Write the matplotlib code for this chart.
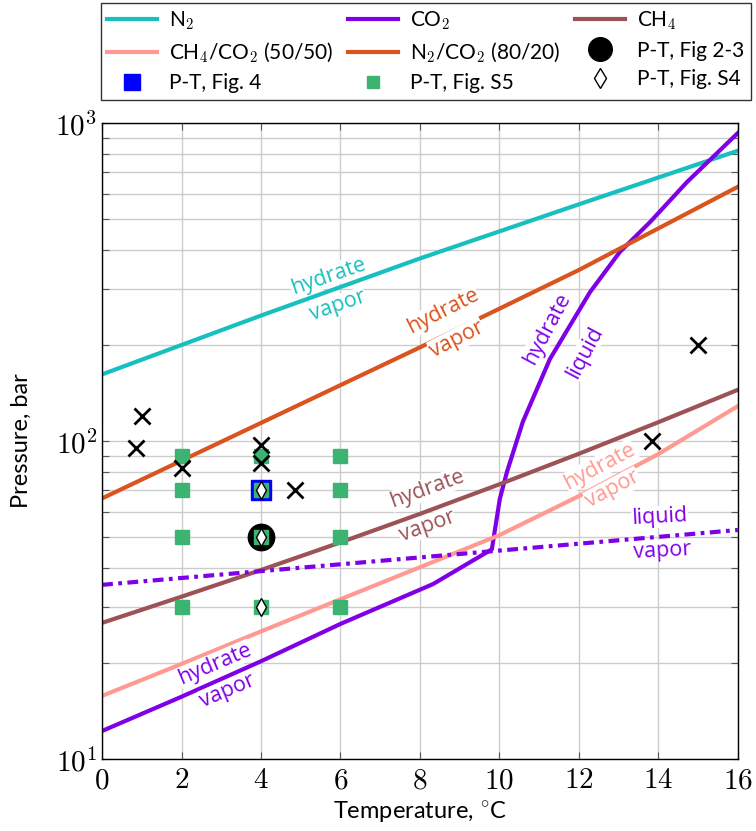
"""
Hydrate equilibrium curves (N2, CO2, CH4 and mixtures) with the P-T
conditions used in the experiments, on a log pressure axis.
"""

import matplotlib
matplotlib.use("Agg")
import matplotlib.pyplot as plt
from matplotlib.lines import Line2D

plt.rcParams["mathtext.fontset"] = "cm"
plt.rcParams["font.family"] = ["Lato", "DejaVu Sans"]

# ----- equilibrium curves (T in degC, P in bar) -----
T_N2 = [0, 4, 8, 12, 16]
P_N2 = [162, 248, 375, 555, 818]

T_N2CO2 = [0, 4, 8, 12, 16]
P_N2CO2 = [66, 114, 197, 345, 630]

T_CH4 = [0, 2, 4, 6, 8, 10, 12, 14, 16]
P_CH4 = [26.8, 32.4, 39.3, 48.0, 59.0, 73.1, 91.2, 114.6, 144.9]

T_MIX = [0, 2, 4, 6, 8, 10, 12, 14, 16]
P_MIX = [15.8, 19.9, 25.2, 31.8, 40.1, 50.6, 67.1, 91.0, 128.8]

# CO2: hydrate-vapor then hydrate-liquid branch
T_CO2 = [0, 2.0, 4.0, 6.0, 8.33, 9.7, 9.81, 10.01, 10.19, 10.59, 11.27,
         12.28, 13.03, 13.79, 14.72, 16.0]
P_CO2 = [12.25, 15.7, 20.3, 26.6, 35.5, 44.8, 45.7, 65.8, 80.0, 115.0,
         181.0, 294.0, 393.0, 488.0, 652.0, 930.0]

# CO2 liquid-vapor line
T_CO2_LV = [0, 16]
P_CO2_LV = [35.3, 52.5]

# ----- experimental points -----
T_CROSS = [0.85, 1.0, 2.0, 4.0, 4.0, 4.85, 13.85, 15.0]
P_CROSS = [95, 120, 82, 97, 85, 70, 100, 200]

T_S5 = [2, 2, 2, 2, 4, 4, 4, 4, 6, 6, 6, 6]
P_S5 = [90, 70, 50, 30, 90, 70, 50, 30, 90, 70, 50, 30]

T_FIG4, P_FIG4 = [4], [70]
T_FIG23, P_FIG23 = [4], [50]
T_S4 = [4, 4, 4]
P_S4 = [70, 50, 30]

C_N2 = "#17bfbf"
C_CO2 = "#7f00e6"
C_CH4 = "#9c5257"
C_MIX = "#ff9a92"
C_N2CO2 = "#d9541e"
C_GREEN = "#3cb371"

LW = 3.0


def label(ax, t, p, s, color, rot):
    ax.text(t, p, s, color=color, rotation=rot, fontsize=15.5,
            family=["Open Sans", "DejaVu Sans"], ha="center", va="center",
            rotation_mode="anchor", zorder=4,
            bbox=dict(facecolor="white", edgecolor="none", pad=0.3))


def main():
    fig = plt.figure(figsize=(7.56, 8.31), dpi=100)
    ax = fig.add_axes([0.135, 0.0866, 0.841, 0.7654])

    ax.plot(T_N2, P_N2, color=C_N2, lw=LW, zorder=2)
    ax.plot(T_CO2, P_CO2, color=C_CO2, lw=LW, zorder=2)
    ax.plot(T_CH4, P_CH4, color=C_CH4, lw=LW, zorder=2)
    ax.plot(T_MIX, P_MIX, color=C_MIX, lw=LW, zorder=2)
    ax.plot(T_N2CO2, P_N2CO2, color=C_N2CO2, lw=LW, zorder=2)
    ax.plot(T_CO2_LV, P_CO2_LV, color=C_CO2, lw=LW, zorder=2,
            dashes=(2.6, 1.3, 0.9, 1.3), dash_capstyle="butt")

    # markers
    ax.plot(T_FIG23, P_FIG23, "o", color="black", ms=19, zorder=5)
    ax.plot(T_FIG4, P_FIG4, "s", color="blue", ms=14, zorder=5)
    ax.plot(T_S5, P_S5, "s", color=C_GREEN, ms=9.5, zorder=6)
    ax.plot(T_S4, P_S4, "d", mfc="white", mec="black", mew=1.0, ms=9,
            zorder=7)
    ax.plot(T_CROSS, P_CROSS, "x", color="black", ms=11, mew=2.0, zorder=8)

    # curve labels
    label(ax, 5.69, 330, "hydrate", C_N2, 19)
    label(ax, 5.94, 266, "vapor", C_N2, 19)
    label(ax, 8.58, 256, "hydrate", C_N2CO2, 27)
    label(ax, 8.93, 209, "vapor", C_N2CO2, 27)
    label(ax, 11.19, 225, "hydrate", C_CO2, 62)
    label(ax, 12.15, 190, "liquid", C_CO2, 62)
    label(ax, 8.18, 70.6, "hydrate", C_CH4, 20)
    label(ax, 8.18, 54.0, "vapor", C_CH4, 20)
    label(ax, 12.53, 83.4, "hydrate", C_MIX, 28)
    label(ax, 12.86, 70.6, "vapor", C_MIX, 28)
    label(ax, 14.04, 57.7, "liquid", C_CO2, 3)
    label(ax, 14.09, 45.1, "vapor", C_CO2, 3)
    label(ax, 2.84, 19.9, "hydrate", C_CO2, 23)
    label(ax, 3.17, 16.4, "vapor", C_CO2, 23)

    ax.set_yscale("log")
    ax.set_xlim(0, 16)
    ax.set_ylim(10, 1000)
    xt = list(range(0, 17, 2))
    ax.set_xticks(xt)
    ax.set_xticklabels([f"${v}$" for v in xt], fontsize=21)
    ax.set_yticks([10, 100, 1000])
    ax.set_yticklabels(["$10^{1}$", "$10^{2}$", "$10^{3}$"], fontsize=21)
    ax.yaxis.set_minor_formatter(plt.NullFormatter())
    ax.tick_params(which="both", direction="in", top=True, right=True,
                   length=5, width=0.8, color="#555555")
    ax.tick_params(axis="x", pad=6)
    ax.grid(True, which="major", color="#cccccc", lw=1.0)
    ax.grid(True, which="minor", axis="y", color="#cccccc", lw=1.0)
    ax.set_axisbelow(True)
    for sp in ax.spines.values():
        sp.set_linewidth(1.0)

    ax.set_xlabel("Temperature, $^{\\circ}$C", fontsize=17)
    ax.set_ylabel("Pressure, bar", fontsize=17)
    ax.yaxis.set_label_coords(-0.11, 0.5)

    # legend, column-major order for ncol=3
    h = {
        "n2": Line2D([], [], color=C_N2, lw=LW),
        "co2": Line2D([], [], color=C_CO2, lw=LW),
        "ch4": Line2D([], [], color=C_CH4, lw=LW),
        "mix": Line2D([], [], color=C_MIX, lw=LW),
        "n2co2": Line2D([], [], color=C_N2CO2, lw=LW),
        "f23": Line2D([], [], ls="none", marker="o", color="black", ms=17),
        "f4": Line2D([], [], ls="none", marker="s", color="blue", ms=12),
        "s5": Line2D([], [], ls="none", marker="s", color=C_GREEN, ms=9),
        "s4": Line2D([], [], ls="none", marker="d", mfc="white",
                     mec="black", ms=10),
    }
    names = {
        "n2": "N$_2$", "co2": "CO$_2$", "ch4": "CH$_4$",
        "mix": "CH$_4$/CO$_2$ (50/50)", "n2co2": "N$_2$/CO$_2$ (80/20)",
        "f23": "P-T, Fig 2-3", "f4": "P-T, Fig. 4",
        "s5": "P-T, Fig. S5", "s4": "P-T, Fig. S4",
    }
    order = ["n2", "mix", "f4", "co2", "n2co2", "s5", "ch4", "f23", "s4"]
    leg = fig.legend([h[k] for k in order], [names[k] for k in order],
                     ncol=3, loc="upper left", mode="expand",
                     bbox_to_anchor=(0.133, 1 - 3 / 831, 0.86, 0.0),
                     fontsize=15, frameon=True, fancybox=False,
                     edgecolor="black", handlelength=2.4, borderpad=0.3,
                     labelspacing=0.42, columnspacing=0.8,
                     handletextpad=0.6, borderaxespad=0.0)
    leg.get_frame().set_linewidth(1.0)

    fig.savefig("out.png", dpi=100)


if __name__ == "__main__":
    main()
